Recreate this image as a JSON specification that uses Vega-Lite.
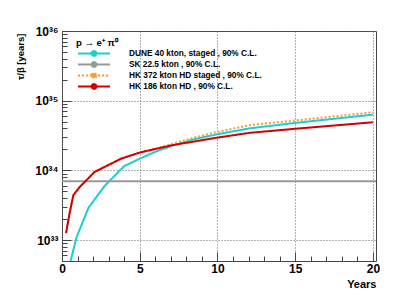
{
  "$schema": "https://vega.github.io/schema/vega-lite/v6.json",
  "width": 314,
  "height": 230,
  "autosize": {"type": "none"},
  "padding": {"left": 62, "top": 31, "right": 43, "bottom": 36},
  "background": "white",
  "config": {
    "view": {"stroke": "#444", "strokeWidth": 1},
    "font": "Liberation Sans"
  },
  "data": {"values": [
      {"series": "DUNE 40 kton, staged , 90% C.L.", "year": 0.5, "tau": 4.5e32},
      {"series": "DUNE 40 kton, staged , 90% C.L.", "year": 0.94, "tau": 1.1e33},
      {"series": "DUNE 40 kton, staged , 90% C.L.", "year": 1.7, "tau": 2.9e33},
      {"series": "DUNE 40 kton, staged , 90% C.L.", "year": 2.75, "tau": 6.0e33},
      {"series": "DUNE 40 kton, staged , 90% C.L.", "year": 4.0, "tau": 1.15e34},
      {"series": "DUNE 40 kton, staged , 90% C.L.", "year": 5.0, "tau": 1.47e34},
      {"series": "DUNE 40 kton, staged , 90% C.L.", "year": 6.0, "tau": 1.85e34},
      {"series": "DUNE 40 kton, staged , 90% C.L.", "year": 7.2, "tau": 2.3e34},
      {"series": "DUNE 40 kton, staged , 90% C.L.", "year": 8.5, "tau": 2.8e34},
      {"series": "DUNE 40 kton, staged , 90% C.L.", "year": 10.0, "tau": 3.3e34},
      {"series": "DUNE 40 kton, staged , 90% C.L.", "year": 12.05, "tau": 4.0e34},
      {"series": "DUNE 40 kton, staged , 90% C.L.", "year": 15.0, "tau": 4.8e34},
      {"series": "DUNE 40 kton, staged , 90% C.L.", "year": 20.0, "tau": 6.3e34},
      {"series": "SK 22.5 kton , 90% C.L.", "year": 0.0, "tau": 7.0e33},
      {"series": "SK 22.5 kton , 90% C.L.", "year": 20.2, "tau": 7.0e33},
      {"series": "HK 372 kton HD staged , 90% C.L.", "year": 0.26, "tau": 1.26e33},
      {"series": "HK 372 kton HD staged , 90% C.L.", "year": 0.5, "tau": 2.5e33},
      {"series": "HK 372 kton HD staged , 90% C.L.", "year": 0.73, "tau": 4.4e33},
      {"series": "HK 372 kton HD staged , 90% C.L.", "year": 1.15, "tau": 5.8e33},
      {"series": "HK 372 kton HD staged , 90% C.L.", "year": 2.1, "tau": 9.5e33},
      {"series": "HK 372 kton HD staged , 90% C.L.", "year": 3.8, "tau": 1.47e34},
      {"series": "HK 372 kton HD staged , 90% C.L.", "year": 5.0, "tau": 1.8e34},
      {"series": "HK 372 kton HD staged , 90% C.L.", "year": 6.0, "tau": 2.05e34},
      {"series": "HK 372 kton HD staged , 90% C.L.", "year": 7.1, "tau": 2.4e34},
      {"series": "HK 372 kton HD staged , 90% C.L.", "year": 8.5, "tau": 2.95e34},
      {"series": "HK 372 kton HD staged , 90% C.L.", "year": 10.0, "tau": 3.56e34},
      {"series": "HK 372 kton HD staged , 90% C.L.", "year": 12.05, "tau": 4.45e34},
      {"series": "HK 372 kton HD staged , 90% C.L.", "year": 15.0, "tau": 5.2e34},
      {"series": "HK 372 kton HD staged , 90% C.L.", "year": 20.0, "tau": 6.8e34},
      {"series": "HK 186 kton HD , 90% C.L.", "year": 0.26, "tau": 1.26e33},
      {"series": "HK 186 kton HD , 90% C.L.", "year": 0.5, "tau": 2.5e33},
      {"series": "HK 186 kton HD , 90% C.L.", "year": 0.73, "tau": 4.4e33},
      {"series": "HK 186 kton HD , 90% C.L.", "year": 1.15, "tau": 5.8e33},
      {"series": "HK 186 kton HD , 90% C.L.", "year": 2.1, "tau": 9.5e33},
      {"series": "HK 186 kton HD , 90% C.L.", "year": 3.8, "tau": 1.47e34},
      {"series": "HK 186 kton HD , 90% C.L.", "year": 5.0, "tau": 1.8e34},
      {"series": "HK 186 kton HD , 90% C.L.", "year": 7.1, "tau": 2.3e34},
      {"series": "HK 186 kton HD , 90% C.L.", "year": 10.0, "tau": 2.95e34},
      {"series": "HK 186 kton HD , 90% C.L.", "year": 12.05, "tau": 3.45e34},
      {"series": "HK 186 kton HD , 90% C.L.", "year": 15.0, "tau": 3.95e34},
      {"series": "HK 186 kton HD , 90% C.L.", "year": 20.0, "tau": 4.9e34}
  ]},
  "mark": {"type": "line", "strokeWidth": 2, "clip": true},
  "encoding": {
    "x": {
      "field": "year",
      "type": "quantitative",
      "scale": {"domain": [0, 20.2], "nice": false, "zero": false},
      "axis": {
        "values": [0,1,2,3,4,5,6,7,8,9,10,11,12,13,14,15,16,17,18,19,20],
        "labelExpr": "(datum.value == 0 || datum.value == 5 || datum.value == 10 || datum.value == 15 || datum.value == 20) ? datum.label : ''",
        "labelOverlap": false,
        "title": "Years",
        "titleFont": "Liberation Sans",
        "titleFontSize": 11,
        "titleFontWeight": "bold",
        "titleColor": "#000",
        "titleAnchor": "end",
        "titleAlign": "right",
        "titleX": 314,
        "titleY": 26,
        "titleBaseline": "alphabetic",
        "labelFont": "Liberation Sans",
        "labelFontSize": 12,
        "labelFontWeight": "bold",
        "labelColor": "#000",
        "labelPadding": 11,
        "labelFlush": false,
        "domain": false,
        "grid": true,
        "gridDash": [1, 2],
        "gridWidth": 1,
        "gridColor": {"condition": {"test": "(datum.value == 0 || datum.value == 5 || datum.value == 10 || datum.value == 15 || datum.value == 20)", "value": "#666666"}, "value": "rgba(0,0,0,0)"},
        "tickColor": "#444",
        "tickSize": {"condition": {"test": "(datum.value == 0 || datum.value == 5 || datum.value == 10 || datum.value == 15 || datum.value == 20)", "value": -9}, "value": -5}
      }
    },
    "y": {
      "field": "tau",
      "type": "quantitative",
      "scale": {"type": "log", "domain": [5e32, 1e36], "nice": false},
      "axis": {
        "values": [5e32,6e32,7e32,8e32,9e32,1e33,2e33,3e33,4e33,5e33,6e33,7e33,8e33,9e33,1e34,2e34,3e34,4e34,5e34,6e34,7e34,8e34,9e34,1e35,2e35,3e35,4e35,5e35,6e35,7e35,8e35,9e35,1e36],
        "labelExpr": "abs(log(datum.value)/LN10 - 33) < 0.001 ? '10³³' : abs(log(datum.value)/LN10 - 34) < 0.001 ? '10³⁴' : abs(log(datum.value)/LN10 - 35) < 0.001 ? '10³⁵' : abs(log(datum.value)/LN10 - 36) < 0.001 ? '10³⁶' : ''",
        "labelOverlap": false,
        "title": "τ/β [years]",
        "titleFont": "Liberation Sans",
        "titleFontSize": 9.5,
        "titleFontWeight": "bold",
        "titleColor": "#000",
        "titleAngle": -90,
        "titleAlign": "right",
        "titleBaseline": "middle",
        "titleX": -42,
        "titleY": 2,
        "labelFont": "Liberation Sans",
        "labelFontSize": 12,
        "labelFontWeight": "bold",
        "labelColor": "#000",
        "labelPadding": 13,
        "labelFlush": false,
        "domain": false,
        "grid": true,
        "gridDash": [1, 2],
        "gridWidth": 1,
        "gridColor": {"condition": {"test": "abs(log(datum.value)/LN10 - round(log(datum.value)/LN10)) < 0.001", "value": "#666666"}, "value": "rgba(0,0,0,0)"},
        "tickColor": "#444",
        "tickSize": {"condition": {"test": "abs(log(datum.value)/LN10 - round(log(datum.value)/LN10)) < 0.001", "value": -9}, "value": -5}
      }
    },
    "color": {
      "field": "series",
      "type": "nominal",
      "scale": {
        "domain": ["DUNE 40 kton, staged , 90% C.L.", "SK 22.5 kton , 90% C.L.", "HK 372 kton HD staged , 90% C.L.", "HK 186 kton HD , 90% C.L."],
        "range": ["#1ccfcf", "#999999", "#ff9933", "#d40000"]
      },
      "legend": {
        "orient": "none",
        "legendX": 14,
        "legendY": 7,
        "title": "p → e⁺ π⁰",
        "titleFont": "Liberation Sans",
        "titleFontSize": 9.5,
        "titleFontWeight": "bold",
        "titleColor": "#000",
        "titlePadding": 1,
        "labelFont": "Liberation Sans",
        "labelFontSize": 8.3,
        "labelFontWeight": "bold",
        "labelColor": "#000",
        "labelOffset": 30,
        "labelLimit": 300,
        "rowPadding": 1,
        "clipHeight": 10,
        "symbolType": "M-4,0H4M0.6,0A0.6,0.6,0,1,1,-0.6,0A0.6,0.6,0,1,1,0.6,0Z",
        "symbolSize": 64,
        "symbolOffset": 13,
        "symbolStrokeWidth": 2,
        "encode": {
          "symbols": {
            "update": {
              "fill": {"scale": "color", "field": "value"},
              "fillOpacity": {"value": 1}
            }
          }
        }
      }
    },
    "strokeDash": {
      "field": "series",
      "type": "nominal",
      "scale": {
        "domain": ["DUNE 40 kton, staged , 90% C.L.", "SK 22.5 kton , 90% C.L.", "HK 372 kton HD staged , 90% C.L.", "HK 186 kton HD , 90% C.L."],
        "range": [[1, 0], [1, 0], [2, 2], [1, 0]]
      }
    }
  }
}
